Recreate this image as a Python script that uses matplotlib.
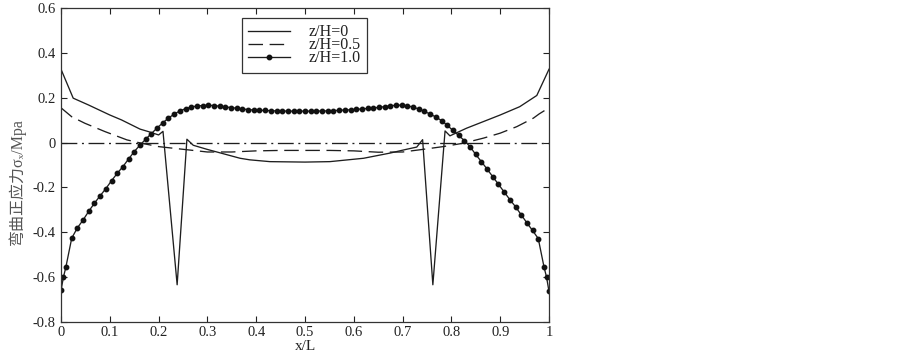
import matplotlib
matplotlib.use("Agg")
import matplotlib.pyplot as plt

plt.rcParams['font.family'] = ['Liberation Serif', 'Noto Sans CJK SC', 'DejaVu Sans']

# ---- data ----
x_h0 = [0, 0.025, 0.056, 0.100, 0.124, 0.162, 0.179, 0.200, 0.209, 0.238, 0.258, 0.271,
        0.299, 0.333, 0.367, 0.387, 0.428, 0.50, 0.551, 0.62, 0.674, 0.708, 0.729, 0.741,
        0.762, 0.787, 0.797, 0.831, 0.900, 0.940, 0.975, 1.0]
y_h0 = [0.327, 0.198, 0.168, 0.123, 0.101, 0.060, 0.049, 0.034, 0.050, -0.634, 0.015, -0.012,
        -0.030, -0.050, -0.070, -0.077, -0.085, -0.087, -0.085, -0.070, -0.047, -0.030, -0.020, 0.013,
        -0.634, 0.052, 0.030, 0.064, 0.123, 0.160, 0.210, 0.327]

x_h05 = [0, 0.022, 0.049, 0.090, 0.135, 0.165, 0.200, 0.250, 0.300, 0.350, 0.400, 0.450,
         0.500, 0.550, 0.600, 0.650, 0.700, 0.736, 0.783, 0.824, 0.866, 0.900, 0.934, 0.968,
         0.980, 1.0]
y_h05 = [0.155, 0.115, 0.086, 0.049, 0.012, -0.003, -0.018, -0.030, -0.042, -0.042, -0.037, -0.035,
         -0.035, -0.035, -0.037, -0.043, -0.042, -0.032, -0.018, -0.003, 0.020, 0.042, 0.071, 0.109,
         0.128, 0.155]

x_h1 = [0, 0.005, 0.010, 0.0220, 0.0337, 0.0453, 0.0570, 0.0686, 0.0803, 0.0920, 0.1036, 0.1153,
        0.1269, 0.1386, 0.1502, 0.1619, 0.1736, 0.1852, 0.1969, 0.2085, 0.2202, 0.2319, 0.2435,
        0.2552, 0.2668, 0.2785, 0.2902, 0.3018, 0.3135, 0.3251, 0.3368, 0.3485, 0.3601, 0.3718,
        0.3834, 0.3951, 0.4067, 0.4184, 0.4301, 0.4417, 0.4534, 0.4650, 0.4767, 0.4884, 0.5000,
        0.5117, 0.5233, 0.5350, 0.5466, 0.5583, 0.5699, 0.5816, 0.5933, 0.6049, 0.6166, 0.6282,
        0.6399, 0.6515, 0.6632, 0.6749, 0.6865, 0.6982, 0.7098, 0.7215, 0.7331, 0.7448, 0.7565,
        0.7681, 0.7798, 0.7915, 0.8031, 0.8148, 0.8264, 0.8381, 0.8498, 0.8614, 0.8731, 0.8847,
        0.8964, 0.9080, 0.9197, 0.9314, 0.9430, 0.9547, 0.9663, 0.9780, 0.990, 0.995, 1.0]
y_h1 = [-0.659, -0.600, -0.555, -0.426, -0.380, -0.345, -0.306, -0.270, -0.237, -0.205, -0.170, -0.137,
        -0.107, -0.073, -0.040, -0.011, 0.015, 0.040, 0.065, 0.088, 0.109, 0.127, 0.141,
        0.151, 0.158, 0.163, 0.165, 0.166, 0.165, 0.162, 0.159, 0.156, 0.153, 0.150,
        0.147, 0.145, 0.144, 0.143, 0.142, 0.141, 0.141, 0.140, 0.140, 0.140, 0.140,
        0.140, 0.140, 0.141, 0.141, 0.142, 0.144, 0.145, 0.146, 0.148, 0.150, 0.152,
        0.154, 0.157, 0.160, 0.164, 0.166, 0.167, 0.164, 0.158, 0.150, 0.139, 0.127,
        0.114, 0.098, 0.077, 0.054, 0.032, 0.009, -0.018, -0.053, -0.085, -0.118, -0.152,
        -0.186, -0.220, -0.254, -0.286, -0.322, -0.358, -0.392, -0.428, -0.557, -0.600, -0.664]

labels = ['z/H=0', 'z/H=0.5', 'z/H=1.0']
xticks = [0, 0.1, 0.2, 0.3, 0.4, 0.5, 0.6, 0.7, 0.8, 0.9, 1.0]
xticklabels = ['0', '0.1', '0.2', '0.3', '0.4', '0.5', '0.6', '0.7', '0.8', '0.9', '1']
yticks = [0.6, 0.4, 0.2, 0, -0.2, -0.4, -0.6, -0.8]
yticklabels = ['0.6', '0.4', '0.2', '0', '-0.2', '-0.4', '-0.6', '-0.8']

# ---- figure ----
fig = plt.figure(figsize=(9.03, 3.56), dpi=100)
ax = fig.add_axes([61/903, 34/356, 488/903, 314/356])

lc = '#1e1e1e'
ax.axhline(0, color=lc, lw=0.95, linestyle=(0, (12, 3.5, 1.5, 3.5)))
l0, = ax.plot(x_h0, y_h0, color=lc, lw=0.95, label=labels[0])
l1, = ax.plot(x_h05, y_h05, color=lc, lw=0.95, linestyle=(0, (11, 5)), label=labels[1])
l2, = ax.plot(x_h1, y_h1, color=lc, lw=0.95, marker='o', markersize=3.2,
              markerfacecolor='#111111', markeredgecolor='#111111', label=labels[2])

ax.set_xlim(0, 1)
ax.set_ylim(-0.8, 0.6)
ax.set_xticks(xticks)
ax.set_xticklabels(xticklabels)
ax.set_yticks(yticks)
ax.set_yticklabels(yticklabels)
ax.tick_params(direction='in', length=4, width=0.8, top=True, right=True,
               labelsize=10.5, colors='#222222')
ax.tick_params(axis='x', pad=3)
ax.tick_params(axis='y', pad=4)
for s in ax.spines.values():
    s.set_linewidth(0.9)
    s.set_color('#333333')

ax.set_xlabel('x/L', fontsize=11, color='#222222')
ax.xaxis.set_label_coords(0.5, -0.058)
ax.set_ylabel('弯曲正应力σₓ/Mpa', fontsize=11.5, color='#555555')
ax.yaxis.set_label_coords(-0.0717, 0.447)

leg = ax.legend(handles=[l0, l1, l2], loc='upper left',
                bbox_to_anchor=(181/488, 1 - 10/314), fontsize=11.5,
                frameon=True, fancybox=False, framealpha=1, edgecolor='#333333',
                borderpad=0.4, labelspacing=-0.19, handlelength=2.6, handletextpad=1.19,
                borderaxespad=0)
leg.get_frame().set_linewidth(0.9)
for t in leg.get_texts():
    t.set_color('#222222')

fig.savefig('out.png', dpi=100)
